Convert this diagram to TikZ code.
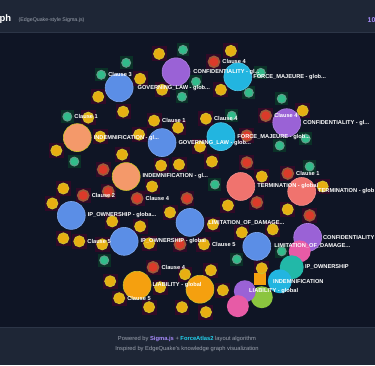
\documentclass[tikz,border=0pt]{standalone}
\usepackage{fontspec}
\setmainfont{Liberation Sans}
\usetikzlibrary{positioning}
\definecolor{pagebg}{HTML}{0F1525}
\definecolor{barbg}{HTML}{1E2636}
\definecolor{barline}{HTML}{2C3547}
\definecolor{txtgrey}{HTML}{9CA3AF}
\definecolor{sigpurple}{HTML}{A78BFA}
\definecolor{facyan}{HTML}{22D3EE}
\definecolor{yfill}{HTML}{E8AE12}
\definecolor{yring}{HTML}{CDC12C}
\definecolor{rfill}{HTML}{DC3A2A}
\definecolor{rring}{HTML}{9A5A3A}
\definecolor{tfill}{HTML}{31BC8A}
\definecolor{tring}{HTML}{66998A}
\definecolor{mbg}{HTML}{300A27}
\definecolor{gbg}{HTML}{0A3127}
\definecolor{eblue}{HTML}{5B8EE6}
\definecolor{epurple}{HTML}{9A62D6}
\definecolor{ecyan}{HTML}{22B5E0}
\definecolor{eorange}{HTML}{F4996A}
\definecolor{esalmon}{HTML}{F0736E}
\definecolor{eliab}{HTML}{F5A00F}
\definecolor{epink}{HTML}{E75BA6}
\definecolor{eteal}{HTML}{22B8A8}
\definecolor{egreen}{HTML}{8BC53F}
\begin{document}
\begin{tikzpicture}[x=1pt, y=-1pt]
  \tikzstyle{ent}=[circle, minimum size=28pt, inner sep=0pt, line width=0.6pt]
  \tikzstyle{grp}=[circle, minimum size=22pt, inner sep=0pt]
  \tikzstyle{yel}=[circle, minimum size=11pt, inner sep=0pt, fill=yfill, draw=yring, line width=0.9pt]
  \tikzstyle{rd}=[circle, minimum size=11pt, inner sep=0pt, fill=rfill, draw=rring, line width=1.6pt]
  \tikzstyle{tea}=[circle, minimum size=9pt, inner sep=0pt, fill=tfill, draw=tring, line width=0.9pt]
  \tikzstyle{mbox}=[minimum size=15pt, inner sep=0pt, fill=mbg]
  \tikzstyle{gbox}=[minimum size=13pt, inner sep=0pt, fill=gbg]
  \tikzstyle{lbl}=[text=white, font=\fontsize{5.7}{6}\selectfont\bfseries, inner sep=0pt]
  % page, header, footer
  \fill[pagebg] (0,0) rectangle (375,366);
  \fill[barbg] (0,0) rectangle (375,33);
  \draw[barline, line width=1pt] (0,33) -- (375,33);
  \fill[barbg] (0,328) rectangle (375,366);
  \draw[barline, line width=0.6pt] (0,328) -- (375,328);
  \useasboundingbox (0,0) rectangle (375,366);
  \node[anchor=west, inner sep=0pt, text=white, font=\fontsize{9.5}{10}\selectfont\bfseries] (ttl) at (-1,19) {ph};
  \node[anchor=west, inner sep=0pt, text=txtgrey, font=\fontsize{5.3}{6}\selectfont] (sub) at (18,20) {(EdgeQuake-style Sigma.js)};
  \node[anchor=west, inner sep=0pt, text=sigpurple, font=\fontsize{7}{8}\selectfont\bfseries] (cnt) at (368,20) {10};
  \node[inner sep=0pt, text=txtgrey, font=\fontsize{5.8}{6}\selectfont] (pow) at (187,340)
    {Powered by \textcolor{sigpurple}{\bfseries Sigma.js} + \textcolor{facyan}{\bfseries ForceAtlas2} layout algorithm};
  \node[inner sep=0pt, text=txtgrey, font=\fontsize{5.8}{6}\selectfont] (insp) at (187,350)
    {Inspired by EdgeQuake's knowledge graph visualization};

  % halos
  \foreach \x/\y [count=\i] in {159/54, 231/51, 140/79, 162/90, 98/97, 221/90, 303/111, 123/112,
      88/118, 154/121, 206/119, 178/128, 100/137, 139/135, 200/147, 56/151, 122/155, 161/166,
      179/165, 212/162, 63/189, 152/187, 52/204, 170/213, 112/222, 140/227, 262/177, 228/206,
      288/210, 323/187, 213/225, 242/233, 273/230, 63/239, 79/242, 102/245, 149/244, 204/245,
      185/275, 110/282, 160/288, 119/299, 149/308, 182/308, 206/313, 262/269, 211/271, 223/291,
      214/62, 266/116, 247/136, 103/170, 247/163, 83/196, 108/192, 137/199, 187/199, 288/174,
      257/203, 310/216, 180/245, 153/268}
    \node[mbox] (h\i) at (\x,\y) {};
  \foreach \x/\y [count=\i] in {183/50, 126/63, 101/75, 196/82, 182/97, 261/73, 249/93, 282/99,
      232/116, 306/139, 280/146, 67/117, 74/162, 215/185, 310/167, 104/261, 237/260, 282/252}
    \node[gbox] (g\i) at (\x,\y) {};

  % entities
  \node[ent, fill=epurple, draw=epurple!80!white] (conf1) at (176,72) {};
  \node[ent, fill=ecyan, draw=ecyan!80!white] (force1) at (238,77) {};
  \node[ent, fill=eblue, draw=eblue!80!white] (gov1) at (119,88) {};
  \node[ent, fill=epurple, draw=epurple!80!white] (conf2) at (287,123) {};
  \node[ent, fill=ecyan, draw=ecyan!80!white] (force2) at (221,137) {};
  \node[ent, fill=eblue, draw=eblue!80!white] (gov2) at (162,143) {};
  \node[ent, fill=eorange, draw=yring] (ind1) at (77,138) {};
  \node[ent, fill=eorange, draw=yring] (ind2) at (126,177) {};
  \node[ent, fill=esalmon, draw=esalmon!80!white] (term1) at (241,187) {};
  \node[ent, fill=esalmon, draw=esalmon!80!white] (term2) at (302,192) {};
  \node[ent, fill=eblue, draw=eblue!80!white] (ip1) at (71,216) {};
  \node[ent, fill=eblue, draw=eblue!80!white] (lim1) at (190,223) {};
  \node[ent, fill=eblue, draw=eblue!80!white] (ip2) at (124,242) {};
  \node[ent, fill=eblue, draw=eblue!80!white] (lim2) at (257,247) {};
  \node[ent, fill=epurple, draw=epurple!80!white] (conf3) at (308,238) {};
  \node[ent, fill=eliab, draw=yring] (liab1) at (137,286) {};
  \node[ent, fill=eliab, draw=yring] (liab2) at (200,290) {};
  % grouped cluster
  \node[grp, fill=epink] (pk1) at (300,252) {};
  \node[grp, minimum size=24pt, fill=eteal] (ipg) at (292,268) {};
  \node[minimum size=12pt, inner sep=0pt, fill=eliab] (og) at (260,280) {};
  \node[grp, minimum size=24pt, fill=ecyan] (indg) at (280,282) {};
  \node[grp, fill=egreen] (gr1) at (262,298) {};
  \node[grp, fill=epurple] (lg) at (245,292) {};
  \node[grp, fill=epink] (pk2) at (238,307) {};

  % clauses and chunks
  \foreach \x/\y [count=\i] in {159/54, 231/51, 140/79, 162/90, 98/97, 221/90, 303/111, 123/112,
      88/118, 154/121, 206/119, 178/128, 100/137, 139/135, 200/147, 56/151, 122/155, 161/166,
      179/165, 212/162, 63/189, 152/187, 52/204, 170/213, 112/222, 140/227, 262/177, 228/206,
      288/210, 323/187, 213/225, 242/233, 273/230, 63/239, 79/242, 102/245, 149/244, 204/245,
      185/275, 110/282, 160/288, 119/299, 149/308, 182/308, 206/313, 262/269, 211/271, 223/291}
    \node[yel] (y\i) at (\x,\y) {};
  \foreach \x/\y [count=\i] in {214/62, 266/116, 247/136, 103/170, 247/163, 83/196, 108/192,
      137/199, 187/199, 288/174, 257/203, 310/216, 180/245, 153/268}
    \node[rd] (r\i) at (\x,\y) {};
  \foreach \x/\y [count=\i] in {183/50, 126/63, 101/75, 196/82, 182/97, 261/73, 249/93, 282/99,
      232/116, 306/139, 280/146, 67/117, 74/162, 215/185, 310/167, 104/261, 237/260, 282/252}
    \node[tea] (t\i) at (\x,\y) {};

  % labels
  \node[lbl, right=2pt of t3] (l1) {Clause 3};
  \node[lbl, right=2pt of t12] (l2) {Clause 1};
  \node[lbl, right=2pt of r1] (l3) {Clause 4};
  \node[lbl, right=2pt of y10] (l4) {Clause 1};
  \node[lbl, right=2pt of y11] (l5) {Clause 4};
  \node[lbl, right=2pt of r2] (l6) {Clause 4};
  \node[lbl, right=2pt of r6] (l7) {Clause 2};
  \node[lbl, right=2pt of r8] (l8) {Clause 4};
  \node[lbl, right=2pt of r10] (l9) {Clause 1};
  \node[lbl, right=2pt of y35] (l10) {Clause 5};
  \node[lbl, right=2pt of y38] (l11) {Clause 5};
  \node[lbl, right=2pt of r14] (l12) {Clause 4};
  \node[lbl, right=2pt of y42] (l13) {Clause 5};
  \node[lbl, right=3pt of conf1] (e1) {CONFIDENTIALITY - gl...};
  \node[lbl, right=1pt of force1] (e2) {FORCE\_MAJEURE - glob...};
  \node[lbl, right=4pt of gov1] (e3) {GOVERNING\_LAW - glob...};
  \node[lbl, right=2pt of conf2] (e4) {CONFIDENTIALITY - gl...};
  \node[lbl, right=2pt of force2] (e5) {FORCE\_MAJEURE - glob...};
  \node[lbl, right=2pt of gov2] (e6) {GOVERNING\_LAW - glob...};
  \node[lbl, right=2pt of ind1] (e7) {INDEMNIFICATION - gl...};
  \node[lbl, right=2pt of ind2] (e8) {INDEMNIFICATION - gl...};
  \node[lbl, right=2pt of term1] (e9) {TERMINATION - global};
  \node[lbl, right=2pt of term2] (e10) {TERMINATION - glob};
  \node[lbl, right=2pt of ip1] (e11) {IP\_OWNERSHIP - globa...};
  \node[lbl, right=4pt of lim1] (e12) {LIMITATION\_OF\_DAMAGE...};
  \node[lbl, right=2pt of ip2] (e13) {IP\_OWNERSHIP - global};
  \node[lbl, right=3pt of lim2] (e14) {LIMITATION\_OF\_DAMAGE...};
  \node[lbl, right=1pt of conf3] (e15) {CONFIDENTIALITY};
  \node[lbl, right=1pt of liab1] (e16) {LIABILITY - global};
  \node[lbl, right=-7pt of lg] (e17) {LIABILITY - global};
  \node[lbl, right=1pt of ipg] (e18) {IP\_OWNERSHIP};
  \node[lbl, right=-19pt of indg] (e19) {INDEMNIFICATION};
\end{tikzpicture}
\end{document}
